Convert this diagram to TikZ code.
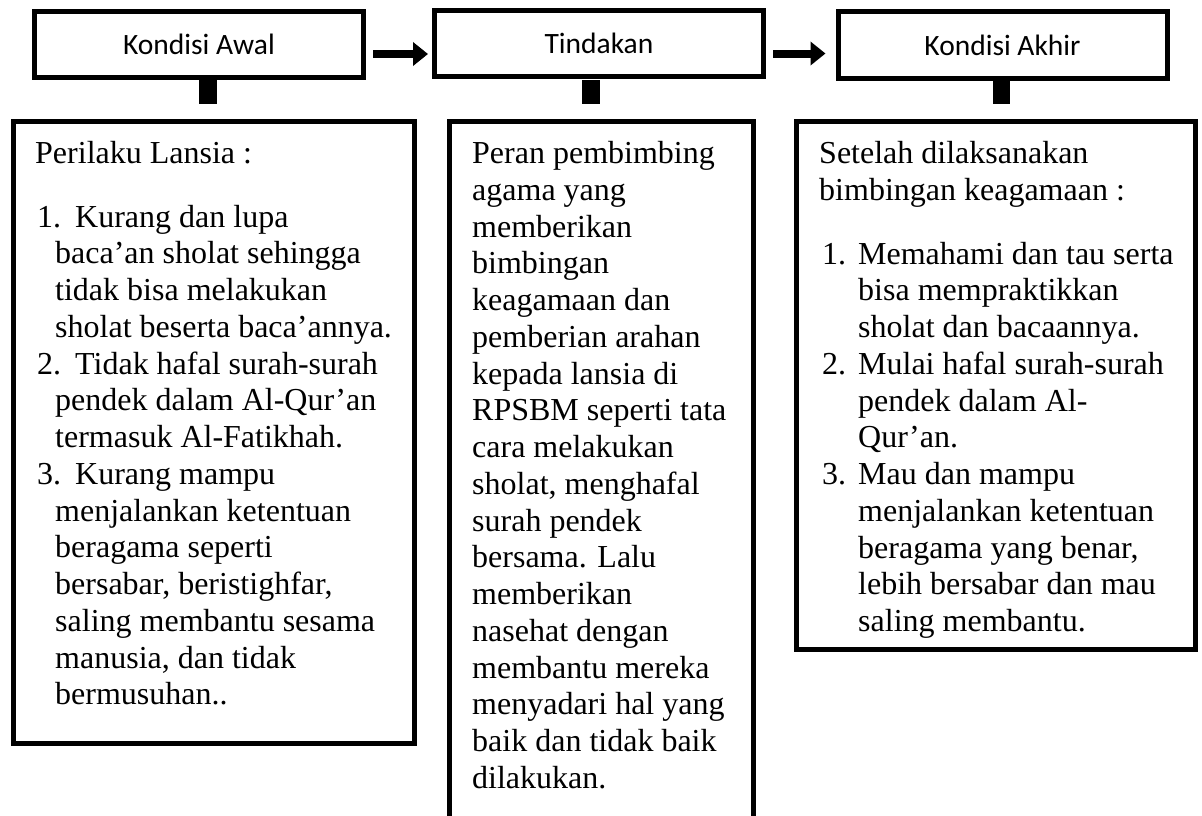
\documentclass[tikz,border=0pt]{standalone}
\usepackage{fontspec}
\setmainfont{Liberation Serif}
\newfontfamily\calib{Carlito}
\usetikzlibrary{arrows.meta}
% plain line with optional indent
\newcommand\tline[2][0pt]{\hbox{\kern#1\relax #2}}
% numbered line: indent, number-box width, number, text
\newcommand\nline[4]{\hbox{\kern#1\relax\hbox to #2{#3\hfil}#4}}
\begin{document}
\begin{tikzpicture}[x=1pt,y=-1pt,
  topbox/.style={draw, line width=5pt, minimum width=329pt, minimum height=66pt,
    inner sep=0pt, font=\calib\fontsize{29.5}{35}\selectfont},
  bigbox/.style={draw, line width=5pt, inner sep=0pt, anchor=north west},
  stub/.style={fill=black, draw=none, minimum width=18pt, minimum height=24pt, inner sep=0pt},
  bigarrow/.style={line width=8pt, -{Triangle[length=15pt,width=23pt]}},
  body/.style={anchor=base west, inner sep=0pt, font=\fontsize{32}{36.75}\selectfont}]
\useasboundingbox (0,0) rectangle (1202,815);
\fill[white] (0,0) rectangle (1202,815);

% top boxes
\node[topbox] (t1) at (199,44) {Kondisi Awal};
\node[topbox] (t2) at (599,43.5) {Tindakan};
\node[topbox, minimum height=67pt] (t3) at (1002.5,45) {Kondisi Akhir};

% stubs under top boxes
\node[stub] (s1) at (208,92) {};
\node[stub] (s2) at (591,92) {};
\node[stub, minimum width=17pt] (s3) at (1001.5,92) {};

% arrows
\coordinate (a1) at ([shift={(7,10)}]t1.east);
\draw[bigarrow, shorten >=4pt] (a1) -- (a1 -| t2.west);
\coordinate (a2) at ([shift={(7,10)}]t2.east);
\draw[bigarrow, shorten >=10pt] (a2) -- (a2 -| t3.west);

% lower boxes
\node[bigbox, minimum width=401pt, minimum height=622pt] (b1) at (11,119) {};
\node[bigbox, minimum width=304pt, minimum height=720pt] (b2) at (447,119) {};
\node[bigbox, minimum width=399pt, minimum height=528pt] (b3) at (793.5,119) {};

% texts
\node[body] (x1) at (35,163.5) {\vtop{\baselineskip=36.75pt
  \tline{Perilaku Lansia :}
  \vskip26.75pt
  \nline{2pt}{38pt}{1.}{Kurang dan lupa}
  \tline[20pt]{baca’an sholat sehingga}
  \tline[20pt]{tidak bisa melakukan}
  \tline[20pt]{sholat beserta baca’annya.}
  \nline{2pt}{38pt}{2.}{Tidak hafal surah-surah}
  \tline[20pt]{pendek dalam Al-Qur’an}
  \tline[20pt]{termasuk Al-Fatikhah.}
  \nline{2pt}{38pt}{3.}{Kurang mampu}
  \tline[20pt]{menjalankan ketentuan}
  \tline[20pt]{beragama seperti}
  \tline[20pt]{bersabar, beristighfar,}
  \tline[20pt]{saling membantu sesama}
  \tline[20pt]{manusia, dan tidak}
  \tline[20pt]{bermusuhan..}}};

\node[body] (x2) at (472,163.5) {\vtop{\baselineskip=36.75pt
  \tline{Peran pembimbing}
  \tline{agama yang}
  \tline{memberikan}
  \tline{bimbingan}
  \tline{keagamaan dan}
  \tline{pemberian arahan}
  \tline{kepada lansia di}
  \tline{RPSBM seperti tata}
  \tline{cara melakukan}
  \tline{sholat, menghafal}
  \tline{surah pendek}
  \tline{bersama. Lalu}
  \tline{memberikan}
  \tline{nasehat dengan}
  \tline{membantu mereka}
  \tline{menyadari hal yang}
  \tline{baik dan tidak baik}
  \tline{dilakukan.}}};

\node[body] (x3) at (819,163.5) {\vtop{\baselineskip=36.75pt
  \tline{Setelah dilaksanakan}
  \tline{bimbingan keagamaan :}
  \vskip27pt
  \nline{3pt}{36pt}{1.}{Memahami dan tau serta}
  \tline[39pt]{bisa mempraktikkan}
  \tline[39pt]{sholat dan bacaannya.}
  \nline{3pt}{36pt}{2.}{Mulai hafal surah-surah}
  \tline[39pt]{pendek dalam Al-}
  \tline[39pt]{Qur’an.}
  \nline{3pt}{36pt}{3.}{Mau dan mampu}
  \tline[39pt]{menjalankan ketentuan}
  \tline[39pt]{beragama yang benar,}
  \tline[39pt]{lebih bersabar dan mau}
  \tline[39pt]{saling membantu.}}};
\end{tikzpicture}
\end{document}
